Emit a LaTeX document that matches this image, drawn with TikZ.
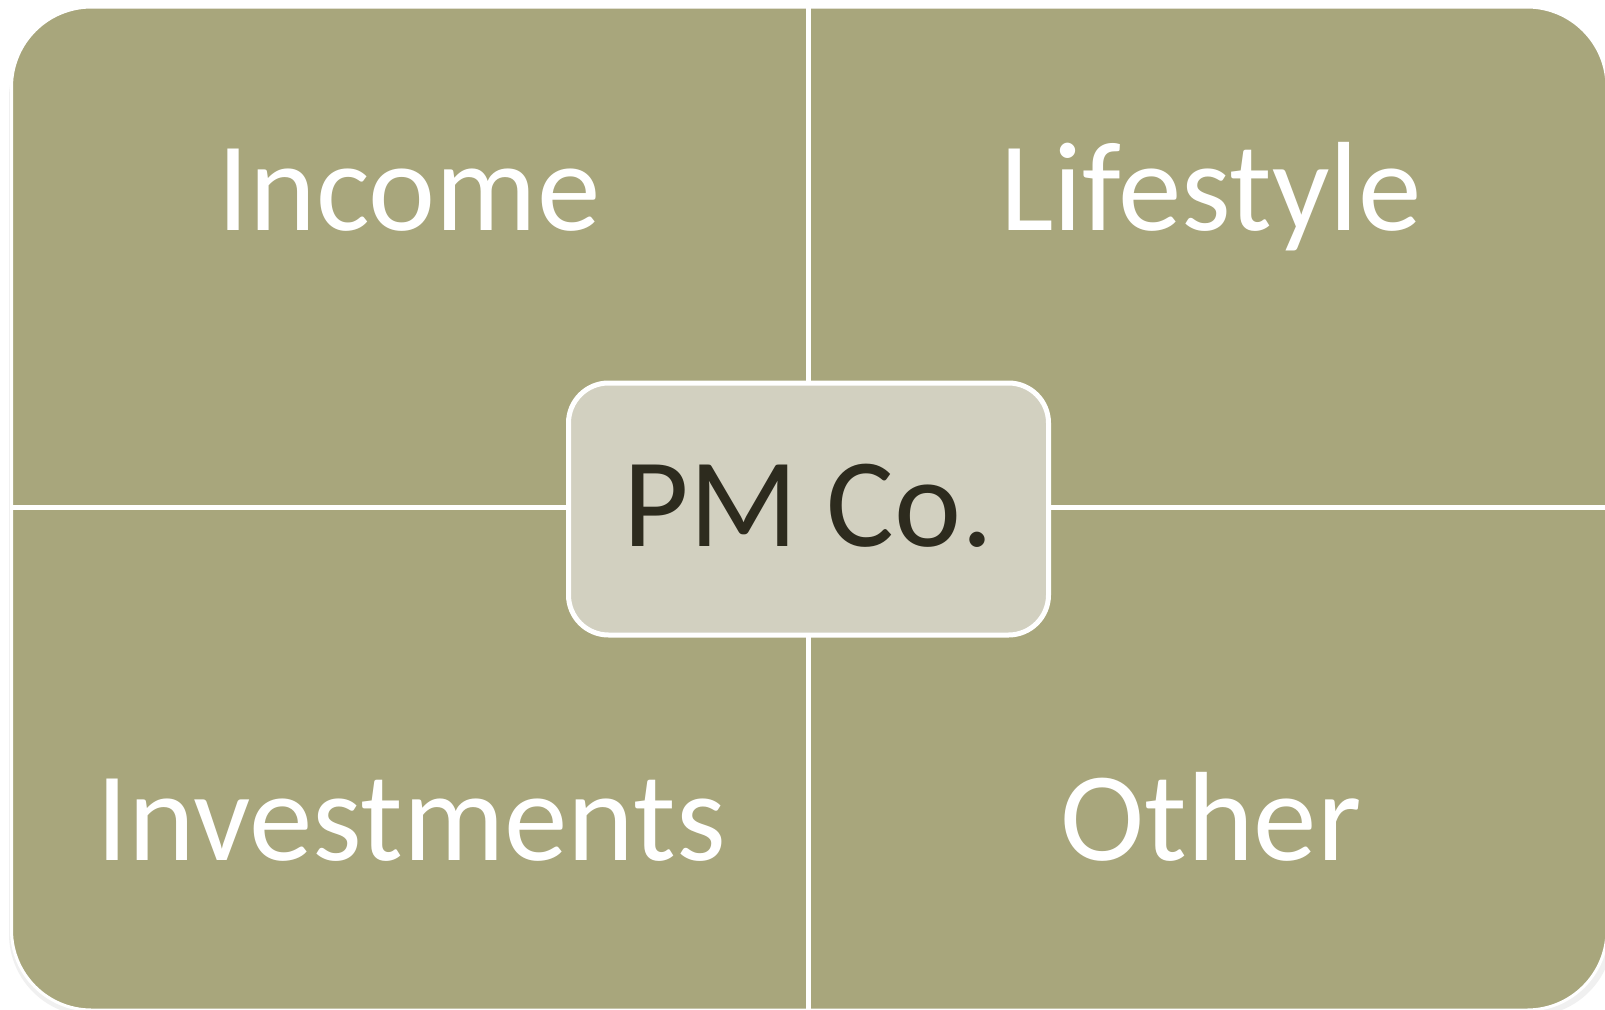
\documentclass[tikz,border=0pt]{standalone}
\usepackage{fontspec}
\setmainfont{Carlito}
\usetikzlibrary{positioning}

\definecolor{olive}{HTML}{A8A67C}
\definecolor{pale}{HTML}{D2D0C0}
\definecolor{ink}{HTML}{2D2B1E}

\tikzset{
	quad/.style={anchor=base, text=white, font=\fontsize{127}{130}\selectfont},
	hub/.style={draw=white, line width=5pt, fill=pale, rounded corners=40pt,
		minimum width=480pt, minimum height=252pt, text=ink, text depth=8pt,
		font=\fontsize{127}{130}\selectfont},
	divider/.style={white, line width=5pt}
}

\begin{document}
\begin{tikzpicture}[x=1pt, y=-1pt]
			\useasboundingbox (0,0) rectangle (1605,1009);
			% Soft shadow and the olive board
			\fill[black!6, rounded corners=82pt] (9,16) rectangle (1613,1016);
			\filldraw[fill=olive, draw=white, line width=3pt, rounded corners=80pt] (11.5,7) rectangle (1607,1010);
			% Ends of the dividers on the board's edge
			\coordinate (top) at (808.5,7);
			\coordinate (bottom) at (808.5,1010);
			\coordinate (left) at (11.5,507);
			\coordinate (right) at (1607,507);
			% Dividers
			\draw[divider] (top) -- (bottom);
			\draw[divider] (left) -- (right);
			% Centre box
			\node[hub] (pmco) at (808.5,509) {PM Co.};
			% Quadrant labels
			\node[quad] (income) at (409,230) {Income};
			\node[quad] (lifestyle) at (1211,230) {Lifestyle};
			\node[quad] (investments) at (411,860) {Investments};
			\node[quad] (other) at (1211,860) {Other};
		\end{tikzpicture}
\end{document}
